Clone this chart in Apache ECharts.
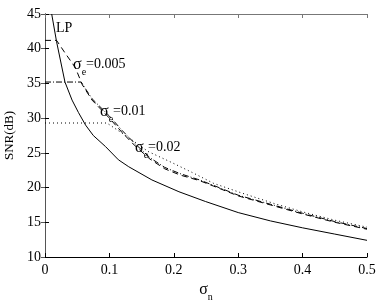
<!DOCTYPE html>
<html>
<head>
<meta charset="utf-8">
<script src="https://cdn.jsdelivr.net/npm/echarts@6/dist/echarts.min.js"></script>
<style>
html,body{margin:0;padding:0;background:#fff;}
#c{width:382px;height:302px;}
</style>
</head>
<body>
<div id="c"></div>
<script>
// x ticks and y ticks
const xTicks = [0, 0.1, 0.2, 0.3, 0.4, 0.5];
const yTicks = [10, 15, 20, 25, 30, 35, 40, 45];

// LP (solid)
const lpX = [0.0104, 0.018, 0.031, 0.042, 0.052, 0.063, 0.075, 0.094, 0.114, 0.13, 0.166, 0.208, 0.249, 0.3, 0.35, 0.4, 0.45, 0.5];
const lpY = [45, 41, 35.2, 32.6, 30.8, 29.0, 27.5, 25.9, 24.0, 23.0, 21.1, 19.4, 18.0, 16.4, 15.2, 14.2, 13.3, 12.4];

// sigma_e = 0.005 (dashed)
const e005X = [0, 0.018, 0.031, 0.047, 0.058, 0.073, 0.1, 0.12, 0.14, 0.163, 0.186, 0.21, 0.24, 0.262, 0.3, 0.35, 0.4, 0.45, 0.5];
const e005Y = [41.2, 41.2, 39.4, 37.3, 34.8, 32.6, 30.0, 27.9, 26.0, 24.1, 22.7, 21.8, 21.0, 20.2, 18.8, 17.5, 16.2, 15.0, 14.0];

// sigma_e = 0.01 (dash-dot)
const e01X = [0, 0.056, 0.073, 0.1, 0.12, 0.14, 0.163, 0.186, 0.21, 0.24, 0.262, 0.3, 0.35, 0.4, 0.45, 0.5];
const e01Y = [35.2, 35.2, 32.8, 30.3, 28.2, 26.3, 24.3, 22.9, 22.0, 21.1, 20.3, 18.9, 17.6, 16.3, 15.1, 14.1];

// sigma_e = 0.02 (dotted)
const e02X = [0, 0.096, 0.13, 0.16, 0.197, 0.228, 0.262, 0.306, 0.356, 0.4, 0.45, 0.5];
const e02Y = [29.3, 29.3, 27.2, 25.2, 23.6, 22.2, 20.6, 19.2, 17.7, 16.5, 15.3, 14.3];

const zip = (xs, ys) => xs.map((x, i) => [x, ys[i]]);
const FF = '"Liberation Serif", "Times New Roman", serif';

const chart = echarts.init(document.getElementById('c'), null, {renderer: 'canvas'});

const sub = () => ({
  s: {fontFamily: FF, fontSize: 16, color: '#000', lineHeight: 16, verticalAlign: 'top'},
  a: {fontFamily: FF, fontSize: 14, color: '#000', lineHeight: 16, verticalAlign: 'top'},
  b: {fontFamily: FF, fontSize: 10, color: '#000', lineHeight: 20, verticalAlign: 'bottom'}
});

function lineSeries(data, dash) {
  return {
    type: 'line', data: data, showSymbol: false, symbol: 'none', smooth: false,
    lineStyle: {color: '#000', width: 1, type: dash || 'solid'},
    animation: false, silent: true, z: 3
  };
}

const option = {
  animation: false,
  grid: {left: 45, right: 15, top: 14, bottom: 45, containLabel: false, outerBoundsMode: 'none'},
  xAxis: [{
    type: 'value', min: xTicks[0], max: xTicks[xTicks.length - 1], interval: 0.1, position: 'bottom',
    axisLine: {lineStyle: {color: '#000', width: 1}},
    axisTick: {inside: true, length: 4, lineStyle: {color: '#000'}},
    axisLabel: {fontFamily: FF, fontSize: 14, color: '#000', margin: 6,
      formatter: v => String(Math.round(v * 10) / 10)},
    splitLine: {show: false},
    name: '{s|σ}{b|n}', nameLocation: 'middle', nameGap: 24,
    nameTextStyle: {rich: sub()}
  }, {
    type: 'value', min: 0, max: 0.5, interval: 0.1, position: 'top',
    axisLine: {lineStyle: {color: '#777', width: 1}},
    axisTick: {inside: true, length: 4, lineStyle: {color: '#777'}},
    axisLabel: {show: false}, splitLine: {show: false}
  }],
  yAxis: [{
    type: 'value', min: yTicks[0], max: yTicks[yTicks.length - 1], interval: 5, position: 'left',
    axisLine: {show: true, lineStyle: {color: '#000', width: 1}},
    axisTick: {show: true, inside: true, length: 4, lineStyle: {color: '#000'}},
    axisLabel: {fontFamily: FF, fontSize: 14, color: '#000', margin: 4},
    splitLine: {show: false},
    name: 'SNR(dB)', nameLocation: 'middle', nameGap: 28, nameRotate: 90,
    nameTextStyle: {fontFamily: FF, fontSize: 13, color: '#000'}
  }, {
    type: 'value', min: 10, max: 45, interval: 5, position: 'right',
    axisLine: {show: true, lineStyle: {color: '#555', width: 1}},
    axisTick: {show: true, inside: true, length: 4, lineStyle: {color: '#555'}},
    axisLabel: {show: false}, splitLine: {show: false}
  }],
  series: [
    lineSeries(zip(lpX, lpY), 'solid'),
    lineSeries(zip(e005X, e005Y), [6, 4]),
    lineSeries(zip(e01X, e01Y), [6, 2, 1, 2]),
    lineSeries(zip(e02X, e02Y), [1, 3])
  ],
  graphic: [
    {type: 'text', left: 56, top: 21, style: {text: 'LP', font: '14px ' + FF, fill: '#000'}},
    {type: 'text', left: 73, top: 57, style: {text: '{s|σ}{b|e}{a|=0.005}', rich: sub()}},
    {type: 'text', left: 100, top: 104, style: {text: '{s|σ}{b|e}{a|=0.01}', rich: sub()}},
    {type: 'text', left: 135, top: 140, style: {text: '{s|σ}{b|e}{a|=0.02}', rich: sub()}}
  ]
};
chart.setOption(option);
</script>
</body>
</html>
